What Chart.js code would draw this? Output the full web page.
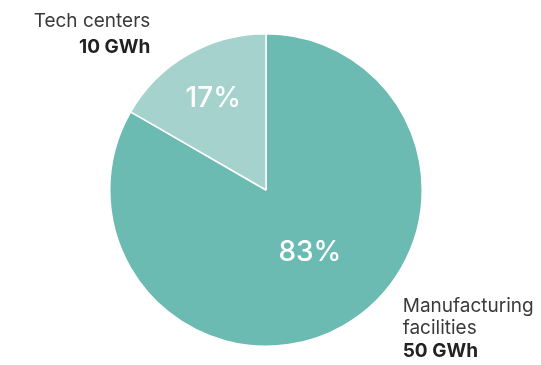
<!DOCTYPE html>
<html>
<head>
<meta charset="utf-8">
<script src="https://cdn.jsdelivr.net/npm/chart.js@4/dist/chart.umd.min.js"></script>
<style>
  html, body { margin: 0; padding: 0; background: #fff; }
  #wrap { width: 541px; height: 365px; position: relative; }
</style>
</head>
<body>
<div id="wrap"><canvas id="myChart"></canvas></div>
<script>
// data
let categories = ['Manufacturing facilities', 'Tech centers'];
let values = [50, 10];           // GWh
let units = 'GWh';
let colors = ['#6bbbb3', '#a5d2cc'];

let total = values.reduce((a, b) => a + b, 0);

// percent labels inside slices + name/value labels outside
let sliceLabels = {
  id: 'sliceLabels',
  afterDatasetsDraw(chart) {
    let c = chart.ctx;
    let arcs = chart.getDatasetMeta(0).data;
    arcs.forEach((a, i) => {
      let mid = (a.startAngle + a.endAngle) / 2;
      let big = values[i] / total > 0.5;
      let f = big ? 0.46 : 0.675;
      let x = a.x + Math.cos(mid) * a.outerRadius * f + (big ? 8 : 0);
      let y = a.y + Math.sin(mid) * a.outerRadius * f;
      c.save();
      c.fillStyle = '#fff';
      c.font = '500 28px Inter';
      c.textAlign = 'center';
      c.textBaseline = 'middle';
      c.fillText(Math.round(values[i] / total * 100) + '%', x, y);
      c.restore();
    });
    // outside labels
    let a0 = arcs[0], r = a0.outerRadius;
    c.save();
    c.textBaseline = 'middle';
    // tech centers, top left
    c.textAlign = 'right';
    c.fillStyle = '#3a3a3a';
    c.font = '19px Inter';
    let tx = a0.x - r * 0.74, ty = a0.y - r * 1.08;
    c.fillText('Tech centers', tx, ty);
    c.fillStyle = '#222';
    c.font = 'bold 19px Inter';
    c.fillText(values[1] + ' ' + units, tx, ty + 26);
    // manufacturing, bottom right
    c.textAlign = 'left';
    let mx = a0.x + r * 0.875, my = a0.y + r * 0.745;
    c.fillStyle = '#3a3a3a';
    c.font = '19px Inter';
    c.fillText('Manufacturing', mx, my);
    c.fillText('facilities', mx, my + 22);
    c.fillStyle = '#222';
    c.font = 'bold 19px Inter';
    c.fillText(values[0] + ' ' + units, mx, my + 45);
    c.restore();
  }
};

new Chart(document.getElementById('myChart'), {
  type: 'pie',
  data: {
    labels: categories,
    datasets: [{
      data: values,
      backgroundColor: colors,
      borderColor: '#fff',
      borderWidth: 1.5
    }]
  },
  options: {
    responsive: true,
    maintainAspectRatio: false,
    animation: false,
    layout: { padding: { left: 109, right: 118, top: 33, bottom: 18 } },
    plugins: {
      legend: { display: false },
      tooltip: { enabled: false }
    }
  },
  plugins: [sliceLabels]
});
</script>
</body>
</html>
